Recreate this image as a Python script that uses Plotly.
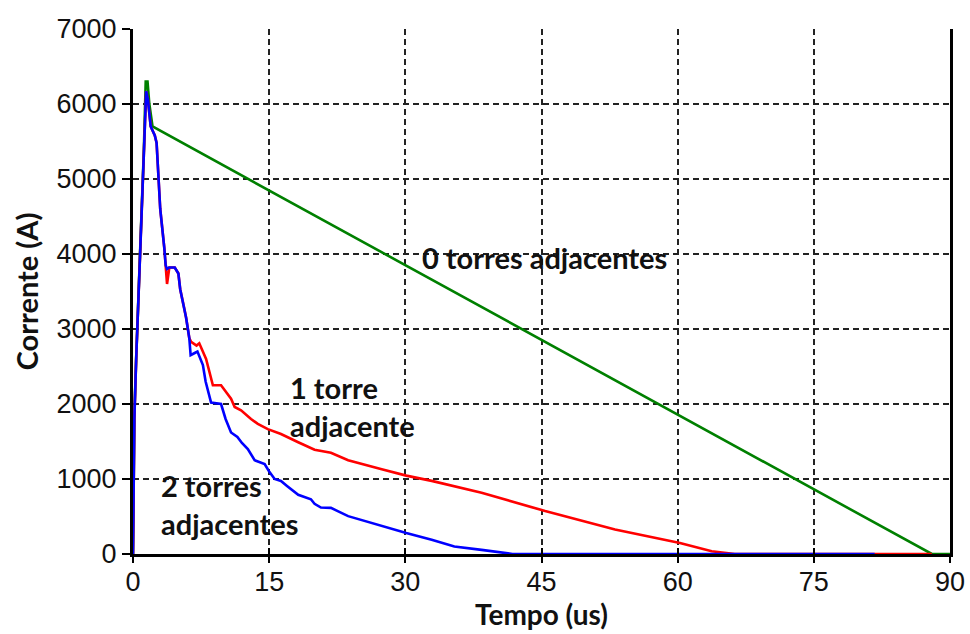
import plotly.graph_objects as go

# Tempo (us) e corrente (A) para cada configuração de torres adjacentes
t_0torres = [0, 0.1, 0.15, 0.35, 0.55, 0.75, 0.95, 1.2, 1.4, 1.6, 1.8, 2.15, 88.0, 90.0]
i_0torres = [0, 1160, 1860, 2620, 3250, 3800, 4500, 5400, 6300, 6300, 6000, 5700, 0, 0]

t_1torre = [0, 0.1, 0.15, 0.35, 0.55, 0.75, 0.95, 1.2, 1.45, 1.65, 1.95, 2.4, 2.6, 2.75,
            3.0, 3.45, 3.6, 3.75, 4.0, 4.6, 5.0, 5.2, 5.6, 5.85, 6.2, 6.4, 7.0, 7.3,
            8.05, 8.8, 9.7, 10.8, 11.2, 11.9, 13.0, 13.75, 14.85, 16.3, 18.2, 20.0,
            21.8, 23.7, 27.4, 30.1, 32.9, 38.4, 45.4, 53.1, 60.25, 63.75, 66.3, 88.0]
i_1torre = [0, 1100, 1800, 2600, 3200, 3750, 4450, 5350, 6170, 6050, 5700, 5580, 5480, 5150,
            4600, 4080, 3850, 3600, 3820, 3820, 3740, 3530, 3300, 3150, 2880, 2830, 2780, 2810,
            2600, 2250, 2250, 2070, 1960, 1915, 1800, 1735, 1665, 1600, 1490, 1390,
            1350, 1250, 1130, 1045, 975, 818, 572, 326, 147, 36, 0, 0]

t_2torres = [0, 0.1, 0.15, 0.35, 0.55, 0.75, 0.95, 1.2, 1.45, 1.65, 1.95, 2.4, 2.6, 2.75,
             3.0, 3.45, 3.6, 3.75, 4.0, 4.6, 5.0, 5.2, 5.6, 5.85, 6.2, 6.35, 6.8, 7.1,
             7.7, 8.0, 8.6, 9.7, 10.2, 10.8, 11.5, 12.0, 12.65, 13.4, 14.5, 15.0, 15.6,
             16.3, 17.0, 18.2, 19.6, 20.0, 20.7, 21.8, 23.7, 25.5, 27.4, 30.1, 32.9,
             35.4, 38.4, 40.0, 41.8, 81.7]
i_2torres = [0, 1100, 1800, 2600, 3200, 3750, 4450, 5350, 6170, 6050, 5700, 5580, 5480, 5150,
             4600, 4080, 3850, 3800, 3820, 3820, 3740, 3530, 3300, 3150, 2880, 2650, 2680, 2700,
             2520, 2300, 2020, 2000, 1800, 1620, 1560, 1480, 1400, 1250, 1200, 1100, 1000,
             975, 905, 790, 730, 670, 620, 615, 505, 440, 370, 280, 190,
             100, 55, 25, 0, 0]

x_ticks = [0, 15, 30, 45, 60, 75, 90]
y_ticks = [0, 1000, 2000, 3000, 4000, 5000, 6000, 7000]

label_font = dict(family="Lato", size=29, color="#111111")
title_font = dict(family="Lato", size=28, color="#111111")
tick_font = dict(size=27, family="Liberation Sans, Arial", color="#111111")

fig = go.Figure()
fig.add_trace(go.Scatter(x=t_0torres, y=i_0torres, mode="lines",
                         line=dict(color="#008000", width=2.6), showlegend=False))
fig.add_trace(go.Scatter(x=t_1torre, y=i_1torre, mode="lines",
                         line=dict(color="#ff0000", width=2.6), showlegend=False))
fig.add_trace(go.Scatter(x=t_2torres, y=i_2torres, mode="lines",
                         line=dict(color="#0000ff", width=2.6), showlegend=False))
# eixo auxiliar só para os traços internos do eixo x
fig.add_trace(go.Scatter(x=[None], y=[None], xaxis="x2", showlegend=False))

fig.add_annotation(x=45.3, y=3955, text="<b>0 torres adjacentes</b>", showarrow=False,
                   xanchor="center", yanchor="middle", font=label_font)
fig.add_annotation(x=17.1, y=1965, text="<b>1 torre<br>adjacente</b>", showarrow=False,
                   xanchor="left", yanchor="middle", align="left", font=label_font)
fig.add_annotation(x=2.87, y=664, text="<b>2 torres<br>adjacentes</b>", showarrow=False,
                   xanchor="left", yanchor="middle", align="left", font=label_font)

# títulos dos eixos
fig.add_annotation(xref="paper", yref="paper", x=0.5, y=-0.15, text="<b>Tempo (us)</b>",
                   showarrow=False, xanchor="center", yanchor="bottom", font=title_font)
fig.add_annotation(xref="paper", yref="paper", x=-0.13, y=0.5, text="<b>Corrente (A)</b>",
                   showarrow=False, xanchor="center", yanchor="middle", textangle=-90,
                   font=label_font)

fig.update_layout(
    width=970, height=634,
    margin=dict(l=133, r=20, t=29, b=80),
    paper_bgcolor="white", plot_bgcolor="white",
    font=dict(family="Liberation Sans, Arial", color="#111111"),
    xaxis=dict(
        range=[0, 90], tickvals=x_ticks, ticktext=[str(v) for v in x_ticks],
        showline=True, linecolor="black", linewidth=3, automargin=False,
        ticks="outside", ticklen=6, tickwidth=2, tickcolor="black",
        ticklabelstandoff=-4,
        showgrid=True, gridcolor="#222222", gridwidth=1.5, griddash="6px,4px",
        zeroline=False, tickfont=tick_font,
    ),
    xaxis2=dict(
        range=[0, 90], tickvals=x_ticks, overlaying="x", anchor="y",
        ticks="inside", ticklen=6, tickwidth=2, tickcolor="black", automargin=False,
        showticklabels=False, showgrid=False, zeroline=False, showline=False,
    ),
    yaxis=dict(
        range=[0, 7000], tickvals=y_ticks, ticktext=[str(v) for v in y_ticks],
        showline=True, linecolor="black", linewidth=3, mirror=True, automargin=False,
        ticks="outside", ticklen=8, tickwidth=2, tickcolor="black",
        showgrid=True, gridcolor="#222222", gridwidth=1.5, griddash="6px,4px",
        zeroline=False, tickfont=tick_font,
    ),
)

fig.write_html("out.html")
